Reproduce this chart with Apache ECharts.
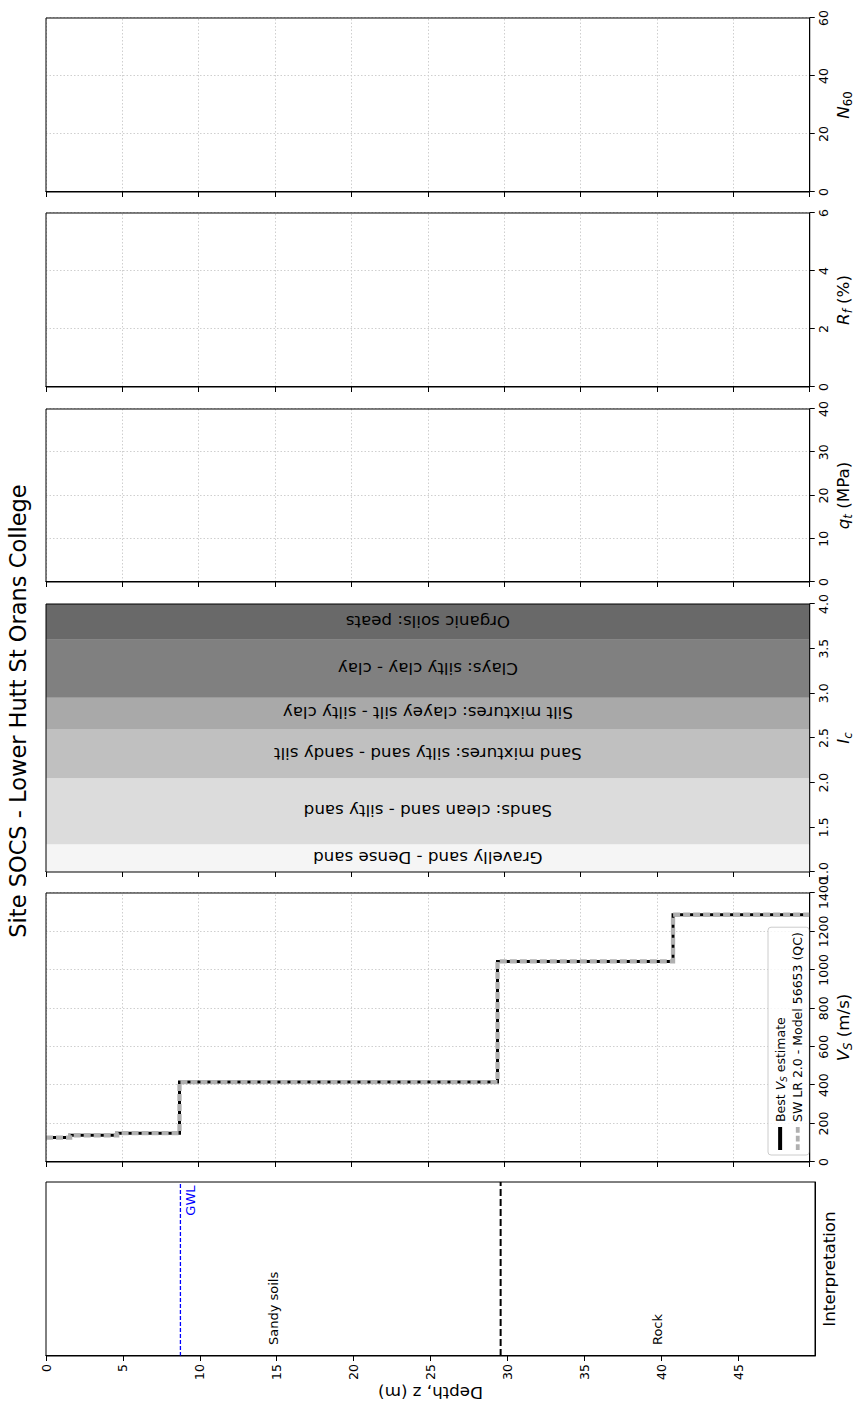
<!DOCTYPE html>
<html>
<head>
<meta charset="utf-8">
<script src="https://cdn.jsdelivr.net/npm/echarts@6/dist/echarts.min.js"></script>
<style>
  html, body { margin: 0; padding: 0; width: 859px; height: 1404px; overflow: hidden; background: #fff; }
  /* The profile is laid out with depth running down, then turned a quarter turn anticlockwise. */
  #chart { position: absolute; left: 0; top: 0; width: 1404px; height: 859px;
           transform-origin: 0 0; transform: translate(0, 1404px) rotate(-90deg); }
</style>
</head>
<body>
<div id="chart"></div>
<script>
const siteTitle = 'Site SOCS - Lower Hutt St Orans College';

// Shear-wave velocity layering (depth in m, Vs in m/s)
const layerTop    = [0, 1.58, 4.66, 8.74, 29.56, 41.05];
const layerBottom = [1.58, 4.66, 8.74, 29.56, 41.05, 50];
const vsBest      = [127, 139, 150, 416, 1044, 1287];
const vsModel     = [127, 139, 150, 416, 1044, 1287];
const bestName  = 'Best Vs estimate';
const modelName = 'SW LR 2.0 - Model 56653 (QC)';

// Soil behaviour type index zones
const icZoneNames  = ['Gravelly sand - Dense sand', 'Sands: clean sand - silty sand',
                      'Sand mixtures: silty sand - sandy silt', 'Silt mixtures: clayey silt - silty clay',
                      'Clays: silty clay - clay', 'Organic soils: peats'];
const icZoneLower  = [1.0, 1.31, 2.05, 2.60, 2.95, 3.60];
const icZoneUpper  = [1.31, 2.05, 2.60, 2.95, 3.60, 4.0];
const icZoneColors = ['#f5f5f5', '#dcdcdc', '#c0c0c0', '#a9a9a9', '#808080', '#696969'];

// Interpretation
const gwlDepth   = 8.74;
const unitNames  = ['Sandy soils', 'Rock'];
const unitTop    = [0, 29.56];
const unitBottom = [29.56, 50];

// Depth scale
const depthMin = 0, depthMax = 50, depthStep = 5;

// Panel axis ranges: [min, max, interval]
const vsRange  = [0, 1400, 200];
const icRange  = [1.0, 4.0, 0.5];
const qtRange  = [0, 40, 10];
const rfRange  = [0, 6, 2];
const n60Range = [0, 60, 20];

const FONT = 'DejaVu Sans';
const TICK_FS = 12.5;
const LABEL_FS = 16.7;
const gridLine = { show: true, lineStyle: { color: '#cfcfcf', width: 1, type: [1.5, 2] } };

// Panel boxes (px): interpretation, Vs, Ic, qt, Rf, N60
const panels = [
  { left: 48,   width: 174 },
  { left: 242,  width: 269 },
  { left: 532,  width: 268 },
  { left: 822,  width: 173 },
  { left: 1017, width: 174 },
  { left: 1212, width: 174 }
];
const plotTop = 46, plotHeight = 769;

const subRich = (fs) => ({
  i:  { fontStyle: 'italic', fontSize: fs, lineHeight: fs * 1.3, fontFamily: FONT, color: '#000' },
  n:  { fontSize: fs, lineHeight: fs * 1.3, fontFamily: FONT, color: '#000' },
  s:  { fontStyle: 'italic', fontSize: fs * 0.7, lineHeight: fs * 0.7, verticalAlign: 'bottom', fontFamily: FONT, color: '#000' },
  sn: { fontSize: fs * 0.7, lineHeight: fs * 0.7, verticalAlign: 'bottom', fontFamily: FONT, color: '#000' }
});

const plainNumber = v => String(Math.round(v * 1000) / 1000);

function depthAxis(gridIndex, isFirst, showGrid) {
  return {
    type: 'value', gridIndex, inverse: true,
    min: depthMin, max: depthMax, interval: depthStep,
    axisLine: { show: true, onZero: false, lineStyle: { color: '#000', width: 1 } },
    axisTick: { show: true, inside: false, length: 5, lineStyle: { color: '#000', width: 1 } },
    axisLabel: { show: isFirst, showMaxLabel: false, margin: 8, fontSize: TICK_FS, color: '#000', fontFamily: FONT,
                 formatter: plainNumber },
    splitLine: showGrid ? gridLine : { show: false },
    name: isFirst ? 'Depth, z (m)' : '',
    nameLocation: 'middle', nameRotate: 90, nameGap: 28,
    nameTextStyle: { fontSize: LABEL_FS, color: '#000', fontFamily: FONT }
  };
}

function valueAxis(gridIndex, range, name, opts) {
  opts = opts || {};
  return {
    type: 'value', gridIndex, position: 'bottom',
    min: range[0], max: range[1], interval: range[2],
    axisLine: { show: true, onZero: false, lineStyle: { color: '#000', width: 1 } },
    axisTick: { show: opts.noTicks ? false : true, inside: false, length: 5, lineStyle: { color: '#000', width: 1 } },
    axisLabel: { show: opts.noTicks ? false : true, margin: 7, fontSize: TICK_FS, color: '#000', fontFamily: FONT,
                 formatter: opts.formatter || plainNumber },
    splitLine: opts.grid ? gridLine : { show: false },
    name, nameLocation: 'middle', nameGap: opts.nameGap,
    nameTextStyle: { fontSize: LABEL_FS, color: '#000', fontFamily: FONT, rich: subRich(LABEL_FS) }
  };
}

// Step profile points (Vs, depth)
function stepProfile(tops, bottoms, values) {
  const pts = [];
  values.forEach((v, i) => { pts.push([v, tops[i]]); pts.push([v, bottoms[i]]); });
  return pts;
}

const chart = echarts.init(document.getElementById('chart'), null, { renderer: 'svg', width: 1404, height: 859 });

const option = {
  animation: false,
  backgroundColor: '#ffffff',
  textStyle: { fontFamily: FONT },
  title: {
    text: siteTitle, left: 693, top: 6, textAlign: 'center', padding: 0,
    textStyle: { fontSize: 22.5, fontWeight: 'normal', color: '#000', fontFamily: FONT }
  },
  grid: panels.map(p => ({
    left: p.left, top: plotTop, width: p.width, height: plotHeight,
    show: true, borderColor: '#000', borderWidth: 1, backgroundColor: 'transparent', z: 10,
    containLabel: false
  })),
  xAxis: [
    valueAxis(0, [0, 1, 1], 'Interpretation', { noTicks: true, nameGap: 5 }),
    valueAxis(1, vsRange, '{i|V}{s|S}{n| (m/s)}', { grid: true, nameGap: 22 }),
    valueAxis(2, icRange, '{i|I}{s|c}', { nameGap: 22, formatter: v => v.toFixed(1) }),
    valueAxis(3, qtRange, '{i|q}{s|t}{n| (MPa)}', { grid: true, nameGap: 22 }),
    valueAxis(4, rfRange, '{i|R}{s|f}{n| (%)}', { grid: true, nameGap: 22 }),
    valueAxis(5, n60Range, '{i|N}{sn|60}', { grid: true, nameGap: 22 })
  ],
  yAxis: [
    depthAxis(0, true, false),
    depthAxis(1, false, true),
    depthAxis(2, false, false),
    depthAxis(3, false, true),
    depthAxis(4, false, true),
    depthAxis(5, false, true)
  ],
  legend: {
    orient: 'vertical', left: 249, top: 768,
    selectedMode: false,
    data: [
      { name: bestName, icon: 'rect' },
      { name: modelName, icon: 'path://M0,0h6v4h-6zM9,0h6v4h-6zM18,0h6v4h-6z' }
    ],
    itemWidth: 23, itemHeight: 4, itemGap: 2,
    padding: [4, 5, 4, 5],
    borderColor: '#cccccc', borderWidth: 1, borderRadius: 3,
    backgroundColor: 'rgba(255,255,255,0.8)',
    itemStyle: { borderWidth: 0 },
    textStyle: { fontSize: 12.5, lineHeight: 15, color: '#000', fontFamily: FONT, rich: subRich(12.5) },
    formatter: name => name === bestName ? 'Best {i|V}{s|S} estimate' : name
  },
  series: [
    // Interpretation panel: groundwater level and unit boundary
    {
      type: 'line', name: 'GWL', xAxisIndex: 0, yAxisIndex: 0, symbol: 'none', silent: true,
      data: [[0, gwlDepth], [1, gwlDepth]],
      lineStyle: { color: '#0000ff', width: 1.3, type: [4, 2] }
    },
    {
      type: 'line', name: 'boundary', xAxisIndex: 0, yAxisIndex: 0, symbol: 'none', silent: true,
      data: [[0, unitBottom[0]], [1, unitBottom[0]]],
      lineStyle: { color: '#000', width: 2, type: [7, 3] }
    },
    {
      type: 'custom', name: 'units', xAxisIndex: 0, yAxisIndex: 0, silent: true,
      data: unitNames.map((n, i) => [0.063, (unitTop[i] + unitBottom[i]) / 2]),
      renderItem: (params, api) => {
        const p = api.coord([api.value(0), api.value(1)]);
        return { type: 'text', x: p[0], y: p[1],
          style: { text: unitNames[params.dataIndex], fill: '#000', fontSize: 13, fontFamily: FONT,
                   align: 'left', verticalAlign: 'middle' } };
      }
    },
    {
      type: 'custom', name: 'gwlLabel', xAxisIndex: 0, yAxisIndex: 0, silent: true,
      data: [[0.98, gwlDepth]],
      renderItem: (params, api) => {
        const p = api.coord([api.value(0), api.value(1)]);
        return { type: 'text', x: p[0], y: p[1] + 4,
          style: { text: 'GWL', fill: '#0000ff', fontSize: 13, fontFamily: FONT,
                   align: 'right', verticalAlign: 'top' } };
      }
    },
    // Vs profiles
    {
      type: 'line', name: bestName, xAxisIndex: 1, yAxisIndex: 1, symbol: 'none',
      color: '#000000', itemStyle: { color: '#000000' },
      data: stepProfile(layerTop, layerBottom, vsBest),
      lineStyle: { color: '#000000', width: 3, join: 'miter' }, z: 3
    },
    {
      type: 'line', name: modelName, xAxisIndex: 1, yAxisIndex: 1, symbol: 'none',
      color: '#b0b0b0', itemStyle: { color: '#b0b0b0' },
      data: stepProfile(layerTop, layerBottom, vsModel),
      lineStyle: { color: '#b0b0b0', width: 4.3, type: [7, 3], join: 'miter' }, z: 4
    },
    // Ic soil behaviour zones
    {
      type: 'custom', name: 'icZones', xAxisIndex: 2, yAxisIndex: 2, silent: true,
      data: icZoneNames.map((n, i) => [icZoneLower[i], icZoneUpper[i]]),
      renderItem: (params, api) => {
        const i = params.dataIndex;
        const a = api.coord([api.value(0), depthMin]);
        const b = api.coord([api.value(1), depthMax]);
        const mid = api.coord([(api.value(0) + api.value(1)) / 2, (depthMin + depthMax) / 2]);
        return { type: 'group', children: [
          { type: 'rect', shape: { x: Math.min(a[0], b[0]), y: Math.min(a[1], b[1]),
              width: Math.abs(b[0] - a[0]), height: Math.abs(b[1] - a[1]) },
            style: { fill: icZoneColors[i] } },
          { type: 'text', x: mid[0], y: mid[1], rotation: Math.PI / 2,
            style: { text: icZoneNames[i], fill: '#000', fontSize: LABEL_FS, fontFamily: FONT,
                     align: 'center', verticalAlign: 'middle' } }
        ] };
      }
    }
  ]
};

chart.setOption(option);
</script>
</body>
</html>
